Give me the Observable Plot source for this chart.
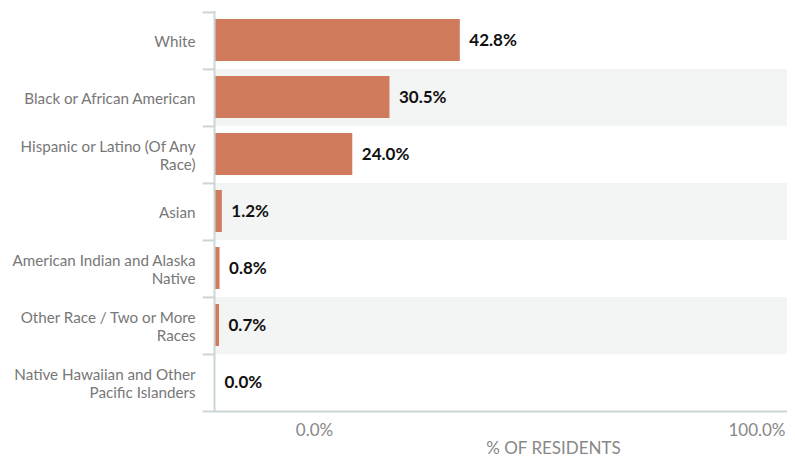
<!DOCTYPE html>
<html>
<head>
<meta charset="utf-8">
<script src="https://cdn.jsdelivr.net/npm/d3@7"></script>
<script src="https://cdn.jsdelivr.net/npm/@observablehq/plot@0.6"></script>
<style>
  html, body { margin: 0; padding: 0; background: #fff; }
  #chart { width: 795px; height: 457px; }
  svg { font-family: Lato, "Open Sans", sans-serif; }
</style>
</head>
<body>
<div id="chart"></div>
<script>
const categories = [
  "White",
  "Black or African American",
  "Hispanic or Latino (Of Any\nRace)",
  "Asian",
  "American Indian and Alaska\nNative",
  "Other Race / Two or More\nRaces",
  "Native Hawaiian and Other\nPacific Islanders"
];
const values = [42.8, 30.5, 24.0, 1.2, 0.8, 0.7, 0.0];
const xTicks = [0, 100];
const xTickLabels = ["0.0%", "100.0%"];
const axisLabel = "% OF RESIDENTS";

const data = categories.map((c, i) => ({category: c, value: values[i], index: i}));
const striped = data.filter(d => d.index % 2 === 1);

const W = 795, H = 457;
const mTop = 11, mBottom = 46, mLeft = 215, mRight = 8;
const step = (H - mTop - mBottom) / categories.length;
const gridColor = "#cbd5d8";

const chart = Plot.plot({
  width: W,
  height: H,
  marginTop: mTop,
  marginBottom: mBottom,
  marginLeft: mLeft,
  marginRight: mRight,
  x: {domain: [0, 100], axis: null},
  y: {domain: categories, padding: 0, axis: null},
  style: {fontFamily: "Lato, 'Open Sans', sans-serif", background: "#fff"},
  marks: [
    // alternating row backgrounds
    Plot.barX(striped, {y: "category", x1: 0, x2: 100, fill: "#f3f4f4"}),
    // bars
    Plot.barX(data, {y: "category", x: "value", fill: "#d07b5c", insetTop: 7, insetBottom: 8}),
    // vertical axis line
    Plot.ruleX([0], {stroke: gridColor, strokeWidth: 2, dx: -1}),
    // band boundary ticks
    Plot.ruleY(data, {y: "category", x1: -2.15, x2: 0, dy: -step / 2, stroke: gridColor, strokeWidth: 2}),
    // bottom axis line
    Plot.ruleY([categories[categories.length - 1]], {y: d => d, x1: -2.15, x2: 100, dy: step / 2, stroke: gridColor, strokeWidth: 2}),
    // category labels
    Plot.text(data, {x: 0, y: "category", text: "category", textAnchor: "end", dx: -20, fill: "#777", fontSize: 15.2, lineHeight: 1.18}),
    // value labels
    Plot.text(data, {x: "value", y: "category", text: d => d.value.toFixed(1) + "%", textAnchor: "start", dx: 9, fill: "#111", fontSize: 17, fontWeight: 700}),
    // x tick labels
    Plot.text([xTicks[0]], {x: d => d, text: () => xTickLabels[0], frameAnchor: "bottom", dy: 24, dx: 99, fill: "#888", fontSize: 17}),
    Plot.text([xTicks[1]], {x: d => d, text: () => xTickLabels[1], frameAnchor: "bottom", dy: 24, textAnchor: "end", dx: -2, fill: "#888", fontSize: 17}),
    // axis label
    Plot.text([axisLabel], {text: d => d, frameAnchor: "bottom", dy: 42, dx: 52, fill: "#888", fontSize: 17})
  ]
});
document.getElementById("chart").appendChild(chart);
</script>
</body>
</html>
